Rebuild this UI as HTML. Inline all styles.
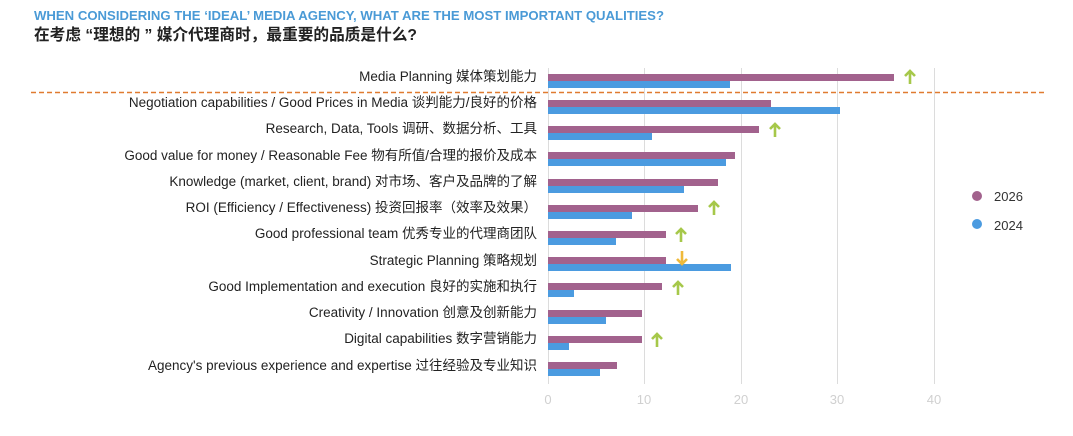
<!DOCTYPE html>
<html><head><meta charset="utf-8"><style>
html,body{margin:0;padding:0;background:#fff;}
svg{display:block;}
text{font-family:"Liberation Sans","Noto Sans CJK SC",sans-serif;}
</style></head><body>
<svg width="1073" height="436" viewBox="0 0 1073 436" xmlns="http://www.w3.org/2000/svg">
<text x="34" y="20" font-size="13" font-weight="bold" fill="#4a9ad6" textLength="630" lengthAdjust="spacingAndGlyphs">WHEN CONSIDERING THE ‘IDEAL’ MEDIA AGENCY, WHAT ARE THE MOST IMPORTANT QUALITIES?</text>
<text x="34" y="40" font-size="16" font-weight="bold" fill="#222" textLength="383" lengthAdjust="spacingAndGlyphs">在考虑 “理想的 ” 媒介代理商时，最重要的品质是什么?</text>
<g stroke="#dcdcdc" stroke-width="1">
<line x1="548.5" y1="68" x2="548.5" y2="384"/>
<line x1="644.5" y1="68" x2="644.5" y2="384"/>
<line x1="741.5" y1="68" x2="741.5" y2="384"/>
<line x1="837.5" y1="68" x2="837.5" y2="384"/>
<line x1="934.5" y1="68" x2="934.5" y2="384"/>
</g>
<g font-size="13" fill="#d0d0d0" text-anchor="middle">
<text x="548" y="404">0</text><text x="644" y="404">10</text><text x="741" y="404">20</text><text x="837" y="404">30</text><text x="934" y="404">40</text>
</g>
<line x1="31" y1="92.5" x2="1045" y2="92.5" stroke="#e07b30" stroke-width="1.6" stroke-dasharray="5,3"/>
<g font-size="13.5" fill="#222" text-anchor="end">
<text x="537" y="81">Media Planning 媒体策划能力</text>
<text x="537" y="107">Negotiation capabilities / Good Prices in Media 谈判能力/良好的价格</text>
<text x="537" y="133">Research, Data, Tools 调研、数据分析、工具</text>
<text x="537" y="160">Good value for money / Reasonable Fee 物有所值/合理的报价及成本</text>
<text x="537" y="186">Knowledge (market, client, brand) 对市场、客户及品牌的了解</text>
<text x="537" y="212">ROI (Efficiency / Effectiveness) 投资回报率（效率及效果）</text>
<text x="537" y="238">Good professional team 优秀专业的代理商团队</text>
<text x="537" y="265">Strategic Planning 策略规划</text>
<text x="537" y="291">Good Implementation and execution 良好的实施和执行</text>
<text x="537" y="317">Creativity / Innovation 创意及创新能力</text>
<text x="537" y="343">Digital capabilities 数字营销能力</text>
<text x="537" y="370">Agency's previous experience and expertise 过往经验及专业知识</text>
</g>
<g>
<rect x="548" y="74" width="346" height="7" fill="#a2628d"/><rect x="548" y="81" width="182" height="7" fill="#4b9be0"/>
<rect x="548" y="100" width="223" height="7" fill="#a2628d"/><rect x="548" y="107" width="292" height="7" fill="#4b9be0"/>
<rect x="548" y="126" width="211" height="7" fill="#a2628d"/><rect x="548" y="133" width="104" height="7" fill="#4b9be0"/>
<rect x="548" y="152" width="187" height="7" fill="#a2628d"/><rect x="548" y="159" width="178" height="7" fill="#4b9be0"/>
<rect x="548" y="179" width="170" height="7" fill="#a2628d"/><rect x="548" y="186" width="136" height="7" fill="#4b9be0"/>
<rect x="548" y="205" width="150" height="7" fill="#a2628d"/><rect x="548" y="212" width="84" height="7" fill="#4b9be0"/>
<rect x="548" y="231" width="118" height="7" fill="#a2628d"/><rect x="548" y="238" width="68" height="7" fill="#4b9be0"/>
<rect x="548" y="257" width="118" height="7" fill="#a2628d"/><rect x="548" y="264" width="183" height="7" fill="#4b9be0"/>
<rect x="548" y="283" width="114" height="7" fill="#a2628d"/><rect x="548" y="290" width="26" height="7" fill="#4b9be0"/>
<rect x="548" y="310" width="94" height="7" fill="#a2628d"/><rect x="548" y="317" width="58" height="7" fill="#4b9be0"/>
<rect x="548" y="336" width="94" height="7" fill="#a2628d"/><rect x="548" y="343" width="21" height="7" fill="#4b9be0"/>
<rect x="548" y="362" width="69" height="7" fill="#a2628d"/><rect x="548" y="369" width="52" height="7" fill="#4b9be0"/>
</g>
<defs>
<path id="up" d="M-5,-1 L0,-6 L5,-1 M0,-6 L0,7" fill="none" stroke-width="2.6" stroke-linejoin="miter"/>
</defs>
<g stroke="#a6c84a">
<use href="#up" x="910" y="77"/>
<use href="#up" x="775" y="130"/>
<use href="#up" x="714" y="208"/>
<use href="#up" x="681" y="235"/>
<use href="#up" x="678" y="288"/>
<use href="#up" x="657" y="340"/>
</g>
<use href="#up" transform="translate(682,258) rotate(180)" stroke="#efb93a"/>
<circle cx="977" cy="196" r="5" fill="#a2628d"/>
<text x="994" y="201" font-size="13" fill="#333">2026</text>
<circle cx="977" cy="224" r="5" fill="#4b9be0"/>
<text x="994" y="230" font-size="13" fill="#333">2024</text>
</svg>
</body></html>
